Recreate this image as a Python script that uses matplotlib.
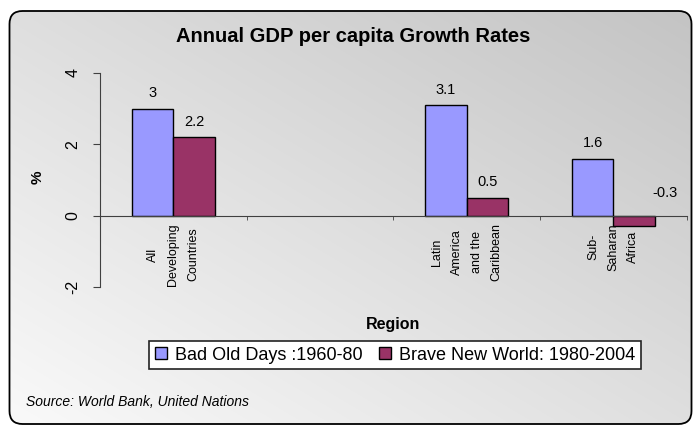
import matplotlib
matplotlib.use("Agg")
import matplotlib.pyplot as plt
import numpy as np
from matplotlib.patches import FancyBboxPatch

plt.rcParams["font.family"] = ["Liberation Sans", "DejaVu Sans"]

# data
categories = ["All\nDeveloping\nCountries", "", "Latin\nAmerica\nand the\nCaribbean", "Sub-\nSaharan\nAfrica"]
bad_old_days = [3.0, np.nan, 3.1, 1.6]
brave_new_world = [2.2, np.nan, 0.5, -0.3]
series_names = ["Bad Old Days :1960-80", "Brave New World: 1980-2004"]
y_ticks = [-2, 0, 2, 4]

W, H = 693, 426
fig = plt.figure(figsize=(W / 100, H / 100), dpi=100)

# gradient background inside a rounded frame
bg = fig.add_axes([0, 0, 1, 1])
bg.set_xlim(0, W)
bg.set_ylim(H, 0)
bg.axis("off")
yy, xx = np.mgrid[0:1:H * 1j, 0:1:W * 1j]
g = (222 - 27 * xx + 28 * yy) / 255.0
im = bg.imshow(np.dstack([g, g, g]), extent=(0, W, H, 0), aspect="auto", interpolation="bilinear")
frame = FancyBboxPatch((9.5, 11), 682, 413, boxstyle="round,pad=0,rounding_size=13",
                       fc="none", ec="black", lw=1.3)
bg.add_patch(frame)
im.set_clip_path(frame)

# plot area (pixel layout from the reference)
ax = fig.add_axes([100 / W, 1 - 287 / H, 586.7 / W, 214 / H])
ax.patch.set_visible(False)
ax.set_xlim(-0.5, len(categories) - 0.5)
ax.set_ylim(-2, 4)

x = np.arange(len(categories))
w = 0.284
b1 = ax.bar(x - w / 2, bad_old_days, w, color="#9999FF", edgecolor="black", lw=1, label=series_names[0])
b2 = ax.bar(x + w / 2, brave_new_world, w, color="#993366", edgecolor="black", lw=1, label=series_names[1])

# value labels
for xs, vals in ((x - w / 2, bad_old_days), (x + w / 2, brave_new_world)):
    for xi, v in zip(xs, vals):
        if np.isnan(v):
            continue
        off = (0, 6) if v >= 0 else (22, 11)
        ax.annotate(f"{v:g}", (xi, max(v, 0)), xytext=off, textcoords="offset points",
                    ha="center", va="bottom", fontsize=10.5)

for s in ("top", "right"):
    ax.spines[s].set_visible(False)
ax.spines["left"].set_color("#404040")
ax.spines["bottom"].set_position(("data", 0))
ax.spines["bottom"].set_color("#404040")

ax.set_yticks(y_ticks)
ax.set_yticklabels([str(t) for t in y_ticks], rotation=90, va="center", fontsize=11.5)
ax.tick_params(axis="y", direction="out", length=5, pad=9, color="#404040")

ax.set_xticks(x)
ax.set_xticklabels(categories, rotation=90, va="top", ha="center", fontsize=9, linespacing=1.9)
ax.set_xticks(np.arange(-0.5, len(categories), 1), minor=True)
ax.tick_params(axis="x", which="major", length=0, pad=5.5)
ax.tick_params(axis="x", which="minor", length=3, direction="out", color="#404040")

fig.text(353 / W, 1 - 36 / H, "Annual GDP per capita Growth Rates", ha="center", va="center",
         fontsize=14.5, fontweight="bold")
fig.text(38 / W, 1 - 177 / H, "%", rotation=90, ha="center", va="center", fontsize=11, fontweight="bold")
fig.text(393 / W, 1 - 325 / H, "Region", ha="center", va="center", fontsize=11.5, fontweight="bold")

leg = fig.legend([b1, b2], series_names, ncol=2, loc="center", bbox_to_anchor=(395 / W, 1 - 355 / H),
                 fontsize=13, frameon=True, fancybox=False, edgecolor="#222222", framealpha=1,
                 handlelength=0.65, handleheight=0.65, handletextpad=0.45, columnspacing=0.9,
                 borderpad=0.32, borderaxespad=0)
leg.get_frame().set_linewidth(1.2)

fig.text(26 / W, 1 - 402 / H, "Source: World Bank, United Nations", ha="left", va="center",
         fontsize=10, style="italic")

fig.savefig("out.png", dpi=100)
